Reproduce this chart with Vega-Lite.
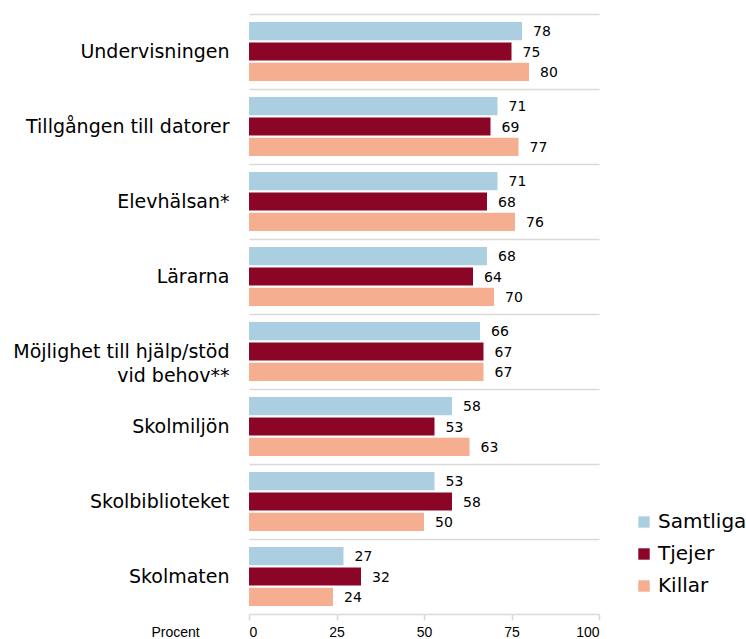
{
  "$schema": "https://vega.github.io/schema/vega-lite/v6.json",
  "width": 350,
  "height": 600,
  "autosize": {"type": "none"},
  "padding": {"left": 249, "top": 14, "right": 147, "bottom": 25},
  "background": "white",
  "config": {"view": {"stroke": null}},
  "data": {"values": [
    {"kat": "Undervisningen", "grupp": "Samtliga", "v": 78},
    {"kat": "Undervisningen", "grupp": "Tjejer", "v": 75},
    {"kat": "Undervisningen", "grupp": "Killar", "v": 80},
    {"kat": "Tillgången till datorer", "grupp": "Samtliga", "v": 71},
    {"kat": "Tillgången till datorer", "grupp": "Tjejer", "v": 69},
    {"kat": "Tillgången till datorer", "grupp": "Killar", "v": 77},
    {"kat": "Elevhälsan*", "grupp": "Samtliga", "v": 71},
    {"kat": "Elevhälsan*", "grupp": "Tjejer", "v": 68},
    {"kat": "Elevhälsan*", "grupp": "Killar", "v": 76},
    {"kat": "Lärarna", "grupp": "Samtliga", "v": 68},
    {"kat": "Lärarna", "grupp": "Tjejer", "v": 64},
    {"kat": "Lärarna", "grupp": "Killar", "v": 70},
    {"kat": "Möjlighet till hjälp/stöd|vid behov**", "grupp": "Samtliga", "v": 66},
    {"kat": "Möjlighet till hjälp/stöd|vid behov**", "grupp": "Tjejer", "v": 67},
    {"kat": "Möjlighet till hjälp/stöd|vid behov**", "grupp": "Killar", "v": 67},
    {"kat": "Skolmiljön", "grupp": "Samtliga", "v": 58},
    {"kat": "Skolmiljön", "grupp": "Tjejer", "v": 53},
    {"kat": "Skolmiljön", "grupp": "Killar", "v": 63},
    {"kat": "Skolbiblioteket", "grupp": "Samtliga", "v": 53},
    {"kat": "Skolbiblioteket", "grupp": "Tjejer", "v": 58},
    {"kat": "Skolbiblioteket", "grupp": "Killar", "v": 50},
    {"kat": "Skolmaten", "grupp": "Samtliga", "v": 27},
    {"kat": "Skolmaten", "grupp": "Tjejer", "v": 32},
    {"kat": "Skolmaten", "grupp": "Killar", "v": 24}
  ]},
  "encoding": {
    "y": {
      "field": "kat", "type": "nominal", "sort": null,
      "scale": {"paddingInner": 0, "paddingOuter": 0},
      "axis": {
        "title": null, "domain": false, "ticks": false,
        "grid": true, "bandPosition": 0, "gridColor": "#d9d9d9", "gridWidth": 1.5,
        "labelExpr": "split(datum.label, '|')",
        "labelFont": "DejaVu Sans", "labelFontSize": 19, "labelColor": "#000000",
        "labelPadding": 20, "labelLimit": 300, "labelLineHeight": 24
      }
    },
    "yOffset": {
      "field": "grupp", "type": "nominal", "sort": ["Samtliga", "Tjejer", "Killar"],
      "scale": {"paddingInner": 0.1, "paddingOuter": 0.4}
    },
    "x": {
      "field": "v", "type": "quantitative",
      "scale": {"domain": [0, 100]},
      "axis": {
        "values": [0, 25, 50, 75, 100], "grid": false,
        "domainColor": "#d9d9d9", "domainWidth": 1.5,
        "tickColor": "#d9d9d9", "tickSize": 6, "tickWidth": 1.5,
        "labelFont": "Liberation Sans", "labelFontSize": 14, "labelColor": "#000000",
        "labelPadding": 5,
        "title": "Procent", "titleFont": "Liberation Sans", "titleFontSize": 14,
        "titleFontWeight": "normal", "titleColor": "#000000",
        "titleAnchor": "start", "titleAlign": "center", "titleX": -74, "titleY": 18, "titleBaseline": "middle"
      }
    }
  },
  "layer": [
    {
      "mark": {"type": "bar"},
      "encoding": {
        "color": {
          "field": "grupp", "type": "nominal",
          "scale": {"domain": ["Samtliga", "Tjejer", "Killar"], "range": ["#abcfe1", "#8b0626", "#f5ae8f"]},
          "legend": {
            "title": null, "orient": "none", "legendX": 385, "legendY": 498,
            "symbolType": "square", "symbolSize": 130, "symbolStrokeWidth": 0,
            "labelFont": "DejaVu Sans", "labelFontSize": 20, "labelColor": "#000000",
            "rowPadding": 12, "labelOffset": 4
          }
        }
      }
    },
    {
      "mark": {"type": "text", "align": "left", "baseline": "middle", "dx": 11, "dy": 1, "font": "DejaVu Sans", "fontSize": 14, "color": "#000000"},
      "encoding": {"text": {"field": "v", "type": "quantitative"}}
    }
  ]
}
